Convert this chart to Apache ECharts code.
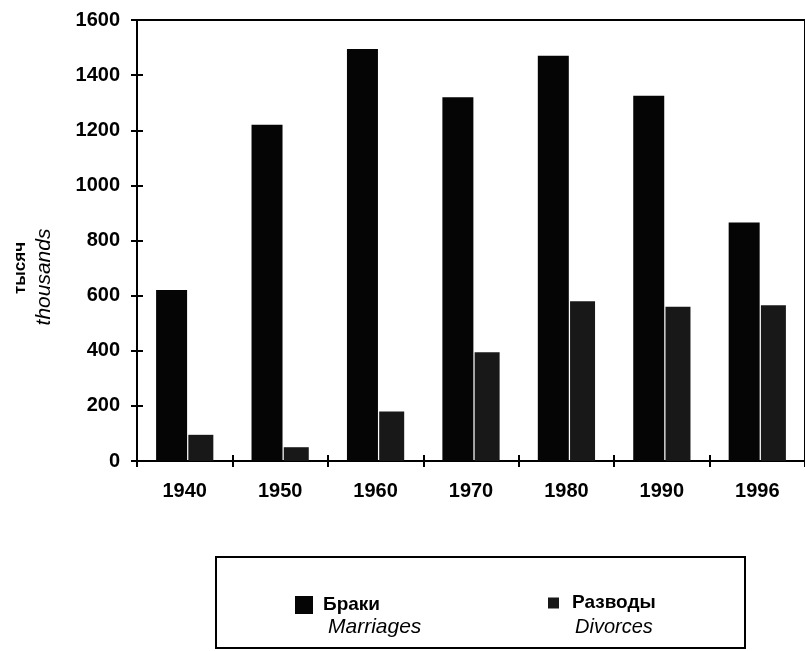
<!DOCTYPE html>
<html>
<head>
<meta charset="utf-8">
<script src="https://cdn.jsdelivr.net/npm/echarts@6/dist/echarts.min.js"></script>
<style>
html,body{margin:0;padding:0;background:#fff;}
#chart{width:805px;height:651px;}
</style>
</head>
<body>
<div id="chart"></div>
<script>
var years = ['1940', '1950', '1960', '1970', '1980', '1990', '1996'];
var marriages = [620, 1220, 1495, 1320, 1470, 1325, 865];
var divorces = [95, 50, 180, 395, 580, 560, 565];
var seriesNamesRu = ['Браки', 'Разводы'];
var seriesNamesEn = ['Marriages', 'Divorces'];
var axisNameRu = 'тысяч';
var axisNameEn = 'thousands';

var FONT = "'Liberation Sans', Arial, sans-serif";
var chart = echarts.init(document.getElementById('chart'), null, {renderer: 'canvas'});

var option = {
  backgroundColor: '#ffffff',
  animation: false,
  grid: {
    left: 137, right: 0, top: 20, bottom: 190,
    show: true, borderColor: '#000', borderWidth: 2, backgroundColor: 'transparent'
  },
  xAxis: [{
    type: 'category', data: years, position: 'bottom',
    axisLine: {lineStyle: {color: '#000', width: 2}},
    axisTick: {show: true, length: 6, lineStyle: {color: '#000', width: 2}},
    axisLabel: {color: '#000', fontFamily: FONT, fontWeight: 'bold', fontSize: 20, margin: 20}
  }, {
    type: 'category', data: years, position: 'bottom',
    axisLine: {show: false},
    axisTick: {show: true, inside: true, length: 6, lineStyle: {color: '#000', width: 2}},
    axisLabel: {show: false}
  }],
  yAxis: [{
    type: 'value', min: 0, max: 1600, interval: 200, position: 'left',
    axisLine: {show: true, lineStyle: {color: '#000', width: 2}},
    axisTick: {show: true, length: 6, lineStyle: {color: '#000', width: 2}},
    splitLine: {show: false},
    axisLabel: {color: '#000', fontFamily: FONT, fontWeight: 'bold', fontSize: 20, margin: 17,
      formatter: function (v) { return String(v); }}
  }, {
    type: 'value', min: 0, max: 1600, interval: 200, position: 'left', offset: 0,
    axisLine: {show: false},
    axisTick: {show: true, inside: true, length: 6, lineStyle: {color: '#000', width: 2}},
    splitLine: {show: false},
    axisLabel: {show: false}
  }],
  legend: [{
    data: [seriesNamesRu[0]],
    left: 295, top: 578, padding: 0,
    itemWidth: 18, itemHeight: 18, icon: 'rect',
    formatter: function (n) { return '{s| }\n{a|' + n + '}\n{b|' + seriesNamesEn[0] + '}'; },
    textStyle: {
      color: '#000',
      rich: {
        s: {fontSize: 10, lineHeight: 22},
        a: {fontFamily: FONT, fontWeight: 'bold', fontSize: 19, lineHeight: 22, color: '#000', padding: [0, 0, 0, 5]},
        b: {fontFamily: FONT, fontStyle: 'italic', fontSize: 21, lineHeight: 22, color: '#000', padding: [0, 0, 0, 10]}
      }
    }
  }, {
    data: [seriesNamesRu[1]],
    left: 548, top: 574, padding: 0,
    itemWidth: 11, itemHeight: 11, icon: 'rect',
    formatter: function (n) { return '{s| }\n{a|' + n + '}\n{b|' + seriesNamesEn[1] + '}'; },
    textStyle: {
      color: '#000',
      rich: {
        s: {fontSize: 10, lineHeight: 24},
        a: {fontFamily: FONT, fontWeight: 'bold', fontSize: 19, lineHeight: 24, color: '#000', padding: [0, 0, 0, 8]},
        b: {fontFamily: FONT, fontStyle: 'italic', fontSize: 20, lineHeight: 24, color: '#000', padding: [0, 0, 0, 11]}
      }
    }
  }],
  graphic: [{
    type: 'rect', z: 1,
    shape: {x: 216, y: 557, width: 529, height: 91},
    style: {fill: 'none', stroke: '#000', lineWidth: 2}
  }, {
    type: 'text', x: 20, y: 268, rotation: Math.PI / 2,
    style: {text: axisNameRu, fill: '#000', font: 'bold 17px ' + FONT, align: 'center', verticalAlign: 'middle'}
  }, {
    type: 'text', x: 44, y: 277, rotation: Math.PI / 2,
    style: {text: axisNameEn, fill: '#000', font: 'italic 21px ' + FONT, align: 'center', verticalAlign: 'middle'}
  }],
  series: [{
    name: seriesNamesRu[0], type: 'bar', data: marriages,
    xAxisIndex: 0, yAxisIndex: 0,
    barWidth: 31, barGap: '4%',
    itemStyle: {color: '#050505'}
  }, {
    name: seriesNamesRu[1], type: 'bar', data: divorces,
    xAxisIndex: 0, yAxisIndex: 0,
    barWidth: 25, barGap: '4%',
    itemStyle: {color: '#181818'}
  }]
};
chart.setOption(option);
</script>
</body>
</html>
